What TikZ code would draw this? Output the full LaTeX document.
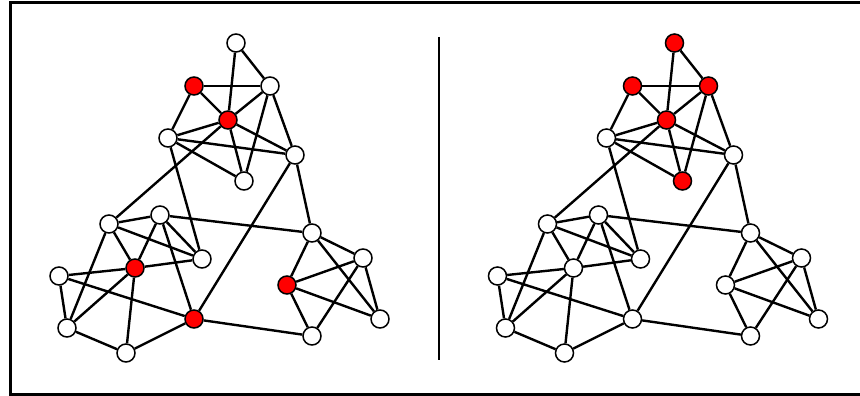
\documentclass[tikz,border=0pt]{standalone}
\usetikzlibrary{backgrounds}
\begin{document}
\begin{tikzpicture}[x=1pt,y=-1pt,
  vtx/.style={circle,draw=black,fill=white,line width=1.5pt,minimum size=18pt,inner sep=0pt},
  hot/.style={vtx,fill=red},
  edge/.style={line width=2.4pt,black}]
\useasboundingbox (0,0) rectangle (860,396);
\draw[line width=3pt] (870,2.5) -- (10,2.5) -- (10,394.5) -- (870,394.5);
\coordinate (septop) at (439,37);
\coordinate (sepbot) at (439,360);
\draw[line width=2.4pt] (septop) -- (sepbot);
% left graph
\begin{scope}
\node[vtx] (lA) at (236,43) {};
\node[hot] (lB) at (194,86) {};
\node[vtx] (lC) at (270,86) {};
\node[hot] (lD) at (228,120) {};
\node[vtx] (lE) at (168,138) {};
\node[vtx] (lF) at (295,155) {};
\node[vtx] (lG) at (244,181) {};
\node[vtx] (lH) at (109,224) {};
\node[vtx] (lI) at (160,215) {};
\node[vtx] (lJ) at (202,259) {};
\node[hot] (lK) at (135,268) {};
\node[vtx] (lL) at (59,276) {};
\node[vtx] (lM) at (67,328) {};
\node[vtx] (lN) at (126,353) {};
\node[hot] (lO) at (194,319) {};
\node[vtx] (lP) at (312,233) {};
\node[vtx] (lQ) at (363,258) {};
\node[hot] (lR) at (287,285) {};
\node[vtx] (lS) at (380,319) {};
\node[vtx] (lT) at (312,336) {};
\end{scope}
% right graph
\begin{scope}[xshift=438.5pt]
\node[hot] (rA) at (236,43) {};
\node[hot] (rB) at (194,86) {};
\node[hot] (rC) at (270,86) {};
\node[hot] (rD) at (228,120) {};
\node[vtx] (rE) at (168,138) {};
\node[vtx] (rF) at (295,155) {};
\node[hot] (rG) at (244,181) {};
\node[vtx] (rH) at (109,224) {};
\node[vtx] (rI) at (160,215) {};
\node[vtx] (rJ) at (202,259) {};
\node[vtx] (rK) at (135,268) {};
\node[vtx] (rL) at (59,276) {};
\node[vtx] (rM) at (67,328) {};
\node[vtx] (rN) at (126,353) {};
\node[vtx] (rO) at (194,319) {};
\node[vtx] (rP) at (312,233) {};
\node[vtx] (rQ) at (363,258) {};
\node[vtx] (rR) at (287,285) {};
\node[vtx] (rS) at (380,319) {};
\node[vtx] (rT) at (312,336) {};
\end{scope}
\begin{pgfonlayer}{background}
\foreach \p in {l,r}{
  \foreach \a/\b in {A/C,A/D,B/C,B/D,B/E,C/D,C/G,C/F,D/E,D/F,D/G,D/H,E/F,E/G,E/J,F/O,F/P,
    H/I,H/J,H/K,H/M,I/K,I/J,I/O,I/P,K/J,K/L,K/M,K/N,L/M,L/O,M/N,N/O,O/T,
    P/R,P/Q,P/S,R/Q,R/S,R/T,Q/T,Q/S}{
    \draw[edge] (\p\a) -- (\p\b);
  }
}
\end{pgfonlayer}
\end{tikzpicture}
\end{document}
